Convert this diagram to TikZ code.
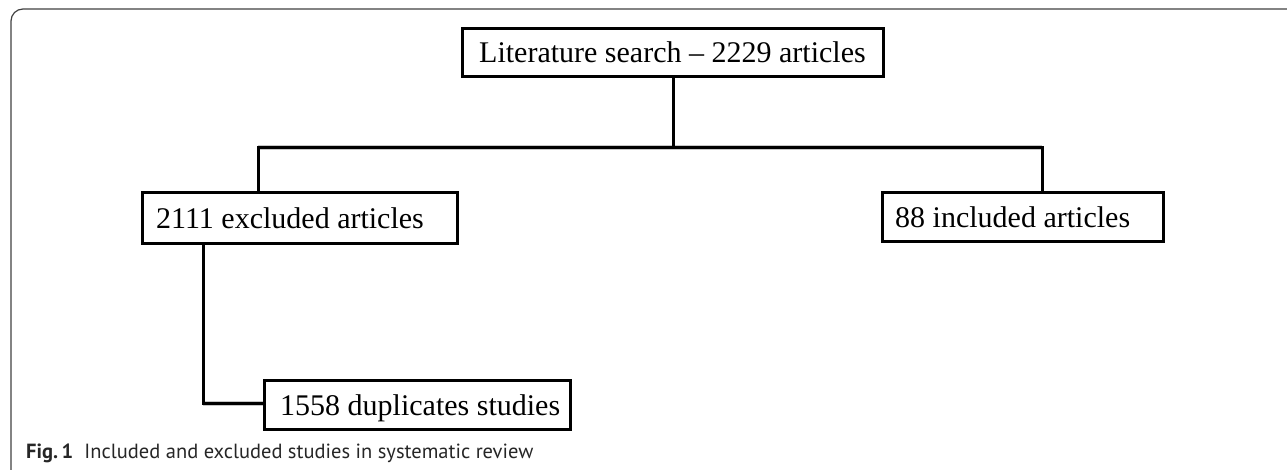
\documentclass[tikz,border=0pt]{standalone}
\usepackage{fontspec}
\setmainfont{Liberation Serif}
\newfontfamily\capfont{PT Sans}
\begin{document}
\begin{tikzpicture}[x=1pt,y=-1pt,
  frameline/.style={draw=black!75, line width=1.2pt, rounded corners=12pt},
  box/.style={draw=black, line width=2.2pt, fill=white, inner sep=0pt, font=\fontsize{30}{32}\selectfont},
  boxtext/.style={anchor=base west, inner sep=0pt, font=\fontsize{30}{32}\selectfont},
  boxedge/.style={draw=black, line width=2.2pt},
  conn/.style={draw=black, line width=3pt},
  shadowline/.style={draw=black!22, line width=5pt}
]
\useasboundingbox (0,0) rectangle (1287,469);
\begin{scope}
\clip (0,0) rectangle (1287,469);
\draw[frameline] (11,9) rectangle (1320,482);
\end{scope}

% nodes
\node[box, minimum width=420pt, minimum height=47pt] (top) at (673,52.5) {};
\node[boxtext] (toptext) at (479,62) {Literature search -- 2229 articles};
\node[box, minimum width=314pt, minimum height=50pt] (left) at (300,218) {};
\node[boxtext] (lefttext) at (156,228) {2111 excluded articles};
\node[box, minimum width=280pt, minimum height=48pt] (right) at (1023,217) {};
\node[boxtext] (righttext) at (895,227) {88 included articles};
\node[box, minimum width=305pt, minimum height=48pt] (bottom) at (417.5,405) {};
\node[boxtext] (bottomtext) at (280,415) {1558 duplicates studies};

\coordinate (jl) at (258,147);
\coordinate (jr) at (1042,147);
\coordinate (k) at (203,403);

% shadows
\begin{scope}[shift={(2,5)}]
\draw[shadowline] (jl) -- (jr);
\draw[shadowline] (k) -- (bottom.west |- k);
\end{scope}

% connectors
\draw[conn] (top.south) -- (top.south |- jl);
\draw[conn] (jl |- left.north) -- (jl) -- (jr) -- (jr |- right.north);
\draw[conn] (k |- left.south) -- (k) -- (bottom.west |- k);

% box outlines on top of shadows
\draw[boxedge] (top.north west) rectangle (top.south east);
\draw[boxedge] (left.north west) rectangle (left.south east);
\draw[boxedge] (right.north west) rectangle (right.south east);
\draw[boxedge] (bottom.north west) rectangle (bottom.south east);

% caption
\node[anchor=base west, inner sep=0pt, text=black!85] (cap) at (26,458)
  {\capfont\fontsize{20.5}{22}\selectfont\textbf{Fig.\,1}\hspace{0.55em}Included and excluded studies in systematic review};
\end{tikzpicture}
\end{document}
